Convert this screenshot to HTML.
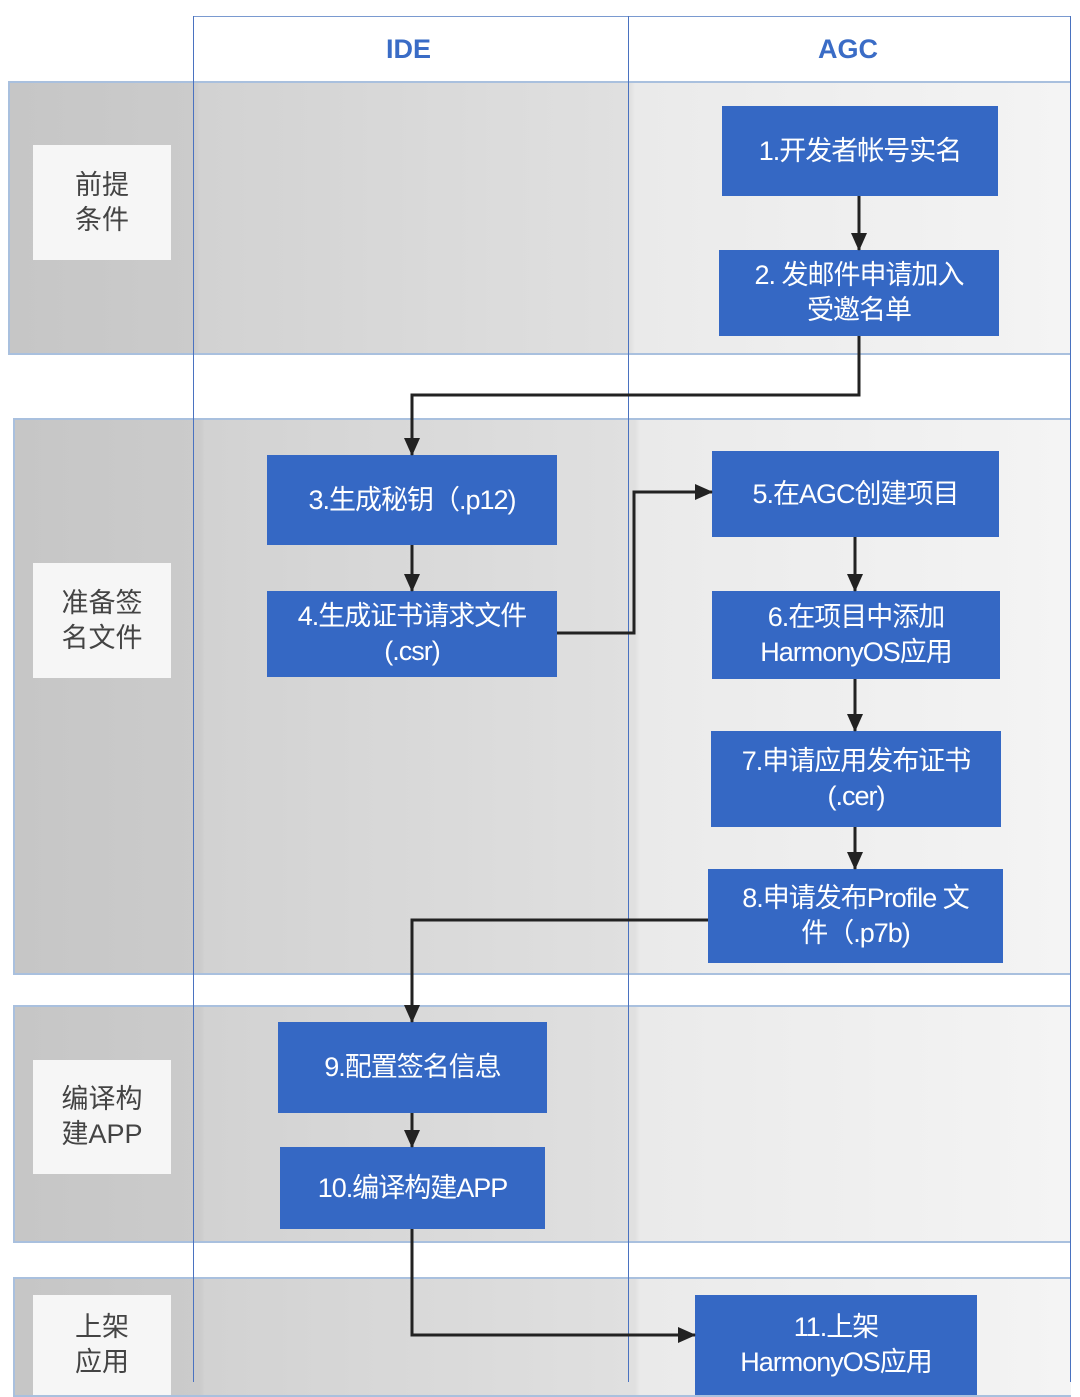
<!DOCTYPE html>
<html><head><meta charset="utf-8"><style>
body{margin:0;width:1080px;height:1382px;position:relative;overflow:hidden;background:#fff;font-family:"Liberation Sans","Noto Sans CJK SC",sans-serif}
.a{position:absolute;box-sizing:border-box}
.band{border-top:2px solid #a9c0de;border-bottom:2px solid #a9c0de;border-left:2px solid #a9c0de;background:linear-gradient(90deg,#c6c6c6 0,#cbcbcb 185px,#d2d2d2 190px,#e0e0e0 620px,#eaeaea 625px,#f4f4f4 100%)}
.lab{background:#f6f6f6;color:#444;font-size:27px;line-height:35px;display:flex;align-items:center;justify-content:center;text-align:center}
.bx{background:#3568c4;color:#fff;font-size:27px;line-height:35px;display:flex;align-items:center;justify-content:center;text-align:center;letter-spacing:-1px}
.vl{position:absolute;width:1px;background:#4a72c0}
.h{position:absolute;color:#3a6cc6;font-weight:bold;font-size:27px}
</style></head><body>
<div class="a" style="left:193px;top:16px;width:878px;height:66px;border:1px solid #7a9ad0"></div>
<div class="h" style="left:386px;top:34px">IDE</div>
<div class="h" style="left:818px;top:34px">AGC</div>

<div class="a band" style="left:8px;top:81px;width:1063px;height:274px"></div>
<div class="a band" style="left:13px;top:418px;width:1058px;height:557px"></div>
<div class="a band" style="left:13px;top:1005px;width:1058px;height:238px"></div>
<div class="a band" style="left:13px;top:1277px;width:1058px;height:120px"></div>

<div class="vl" style="left:193px;top:16px;height:1366px"></div>
<div class="vl" style="left:628px;top:16px;height:1366px"></div>
<div class="vl" style="left:1070px;top:16px;height:1366px"></div>

<div class="a lab" style="left:33px;top:145px;width:138px;height:115px">前提<br>条件</div>
<div class="a lab" style="left:33px;top:563px;width:138px;height:115px">准备签<br>名文件</div>
<div class="a lab" style="left:33px;top:1060px;width:138px;height:114px">编译构<br>建APP</div>
<div class="a lab" style="left:33px;top:1295px;width:138px;height:100px">上架<br>应用</div>

<div class="a bx" style="left:722px;top:106px;width:276px;height:90px">1.开发者帐号实名</div>
<div class="a bx" style="left:719px;top:250px;width:280px;height:86px">2. 发邮件申请加入<br>受邀名单</div>
<div class="a bx" style="left:267px;top:455px;width:290px;height:90px">3.生成秘钥（.p12)</div>
<div class="a bx" style="left:267px;top:591px;width:290px;height:86px">4.生成证书请求文件<br>(.csr)</div>
<div class="a bx" style="left:712px;top:451px;width:287px;height:86px">5.在AGC创建项目</div>
<div class="a bx" style="left:712px;top:591px;width:288px;height:88px">6.在项目中添加<br>HarmonyOS应用</div>
<div class="a bx" style="left:711px;top:731px;width:290px;height:96px">7.申请应用发布证书<br>(.cer)</div>
<div class="a bx" style="left:708px;top:869px;width:295px;height:94px">8.申请发布Profile 文<br>件（.p7b)</div>
<div class="a bx" style="left:278px;top:1022px;width:269px;height:91px">9.配置签名信息</div>
<div class="a bx" style="left:280px;top:1147px;width:265px;height:82px">10.编译构建APP</div>
<div class="a bx" style="left:695px;top:1295px;width:282px;height:100px">11.上架<br>HarmonyOS应用</div>

<svg class="a" style="left:0;top:0" width="1080" height="1382">
<defs><marker id="m" markerWidth="8" markerHeight="8" refX="7" refY="4" orient="auto" markerUnits="userSpaceOnUse" viewBox="0 0 8 8"><path d="M0,0L8,4L0,8z" fill="#222"/></marker>
<marker id="M" markerWidth="18" markerHeight="16" refX="17" refY="8" orient="auto" markerUnits="userSpaceOnUse"><path d="M0,0L18,8L0,16z" fill="#222"/></marker></defs>
<g stroke="#222" stroke-width="3" fill="none" marker-end="url(#M)">
<path d="M859 196V250"/>
<path d="M859 336V395H412V455"/>
<path d="M412 545V591"/>
<path d="M557 633H634V492H712"/>
<path d="M855 537V591"/>
<path d="M855 679V731"/>
<path d="M855 827V869"/>
<path d="M708 920H412V1022"/>
<path d="M412 1113V1147"/>
<path d="M412 1229V1335H695"/>
</g></svg>
</body></html>
